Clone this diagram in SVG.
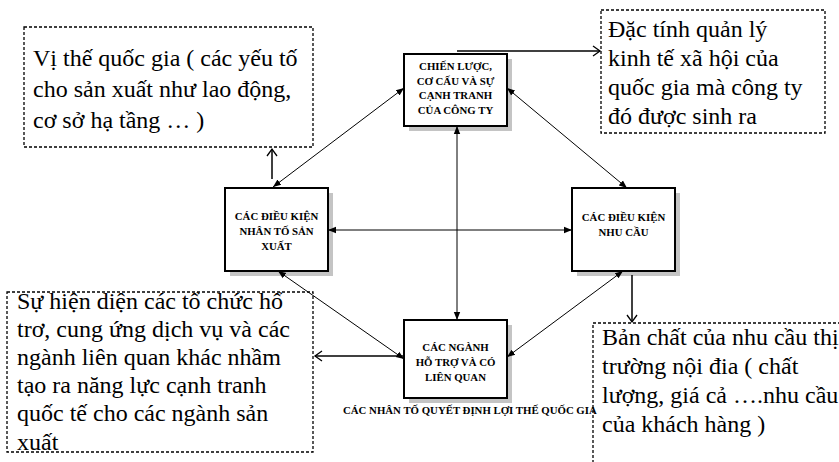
<svg xmlns="http://www.w3.org/2000/svg" width="839" height="462" viewBox="0 0 839 462">
<style>
.box{fill:#fff;stroke:#000;stroke-width:2}
.shadow{fill:#c4c4c4}
.dash{fill:none;stroke:#000;stroke-width:1.3;stroke-dasharray:3 2}
.bt{font-family:"Liberation Serif","Times New Roman",serif;font-weight:bold;font-size:10.8px;text-anchor:middle;fill:#000}
.nt{font-family:"Liberation Serif","Times New Roman",serif;font-size:24px;fill:#000}
.cap{font-family:"Liberation Serif","Times New Roman",serif;font-weight:bold;font-size:10.8px;fill:#000}
.c{fill:none;stroke:#000;stroke-width:1}
.o{fill:none;stroke:#000;stroke-width:1.5}
</style>
<defs>
<marker id="ah" markerUnits="userSpaceOnUse" markerWidth="9" markerHeight="8" refX="8" refY="4" orient="auto-start-reverse">
<path d="M0,0.8 L8,4 L0,7.2 Z" fill="#000"/>
</marker>
<marker id="oh" markerUnits="userSpaceOnUse" markerWidth="10" markerHeight="12" refX="8" refY="6" orient="auto">
<path d="M1,1 L8,6 L1,11" fill="none" stroke="#000" stroke-width="1.3"/>
</marker>
</defs>

<g id="n-chienluoc">
<rect class="shadow" x="409" y="59" width="103" height="72"/>
<rect class="box" x="404" y="54" width="103" height="72"/>
<text class="bt" x="455.5" y="70">CHIẾN LƯỢC,</text>
<text class="bt" x="455.5" y="84.5">CƠ CẤU VÀ SỰ</text>
<text class="bt" x="455.5" y="99">CẠNH TRANH</text>
<text class="bt" x="455.5" y="113.5">CỦA CÔNG TY</text>
</g>

<g id="n-nhanto">
<rect class="shadow" x="230" y="193" width="103" height="83"/>
<rect class="box" x="225" y="188" width="103" height="83"/>
<text class="bt" x="276.5" y="220">CÁC ĐIỀU KIỆN</text>
<text class="bt" x="276.5" y="235">NHÂN TỐ SẢN</text>
<text class="bt" x="276.5" y="250">XUẤT</text>
</g>

<g id="n-nhucau">
<rect class="shadow" x="577" y="193" width="103" height="83"/>
<rect class="box" x="572" y="188" width="103" height="83"/>
<text class="bt" x="623.5" y="221">CÁC ĐIỀU KIỆN</text>
<text class="bt" x="623.5" y="236">NHU CẦU</text>
</g>

<g id="n-nganh">
<rect class="shadow" x="409" y="325" width="103" height="78"/>
<rect class="box" x="404" y="320" width="103" height="78"/>
<text class="bt" x="455.5" y="351">CÁC NGÀNH</text>
<text class="bt" x="455.5" y="366">HỖ TRỢ VÀ CÓ</text>
<text class="bt" x="455.5" y="381">LIÊN QUAN</text>
</g>

<g id="n-vithe">
<rect class="dash" x="24" y="27" width="289" height="120"/>
<text class="nt" x="33" y="66">Vị thế quốc gia ( các yếu tố</text>
<text class="nt" x="33" y="97">cho sản xuất như lao động,</text>
<text class="nt" x="33" y="128">cơ sở hạ tầng … )</text>
</g>

<g id="n-dactinh">
<rect class="dash" x="601" y="10" width="224" height="123"/>
<text class="nt" x="608" y="37">Đặc tính quản lý</text>
<text class="nt" x="608" y="66">kinh tế xã hội của</text>
<text class="nt" x="608" y="95">quốc gia mà công ty</text>
<text class="nt" x="608" y="124">đó được sinh ra</text>
</g>

<g id="n-suhiendien">
<rect class="dash" x="7" y="292" width="306" height="160"/>
<text class="nt" x="17" y="309">Sự hiện diện các tổ chức hổ</text>
<text class="nt" x="17" y="337">trơ, cung ứng dịch vụ và các</text>
<text class="nt" x="17" y="365">ngành liên quan khác nhầm</text>
<text class="nt" x="17" y="393">tạo ra năng lực cạnh tranh</text>
<text class="nt" x="17" y="421">quốc tế cho các ngành sản</text>
<text class="nt" x="17" y="450">xuất</text>
</g>

<g id="n-banchat">
<rect class="dash" x="593" y="323" width="260" height="160"/>
<text class="nt" x="602" y="345">Bản chất của nhu cầu thị</text>
<text class="nt" x="602" y="374">trường nội đia ( chất</text>
<text class="nt" x="602" y="403">lượng, giá cả ….nhu cầu</text>
<text class="nt" x="602" y="432">của khách hàng )</text>
</g>

<g id="caption">
<text class="cap" x="343" y="414">CÁC NHÂN TỐ QUYẾT ĐỊNH LỢI THẾ QUỐC GIA</text>
</g>

<g id="connectors">
<line class="c" x1="273" y1="187" x2="404" y2="88" marker-start="url(#ah)" marker-end="url(#ah)"/>
<line class="c" x1="507" y1="88" x2="627" y2="188" marker-start="url(#ah)" marker-end="url(#ah)"/>
<line class="c" x1="457" y1="126" x2="457" y2="320" marker-start="url(#ah)" marker-end="url(#ah)"/>
<line class="c" x1="328" y1="230" x2="572" y2="230" marker-start="url(#ah)" marker-end="url(#ah)"/>
<line class="c" x1="507" y1="357" x2="623" y2="271" marker-start="url(#ah)" marker-end="url(#ah)"/>
<line class="c" x1="278" y1="271" x2="404" y2="359" marker-start="url(#ah)" marker-end="url(#ah)"/>
<line class="o" x1="457" y1="51" x2="600" y2="51" marker-end="url(#oh)"/>
<line class="o" x1="272" y1="179" x2="272" y2="149" marker-end="url(#oh)"/>
<line class="o" x1="404" y1="356" x2="315" y2="356" marker-end="url(#oh)"/>
<line class="o" x1="632" y1="275" x2="632" y2="322" marker-end="url(#oh)"/>
</g>
</svg>
